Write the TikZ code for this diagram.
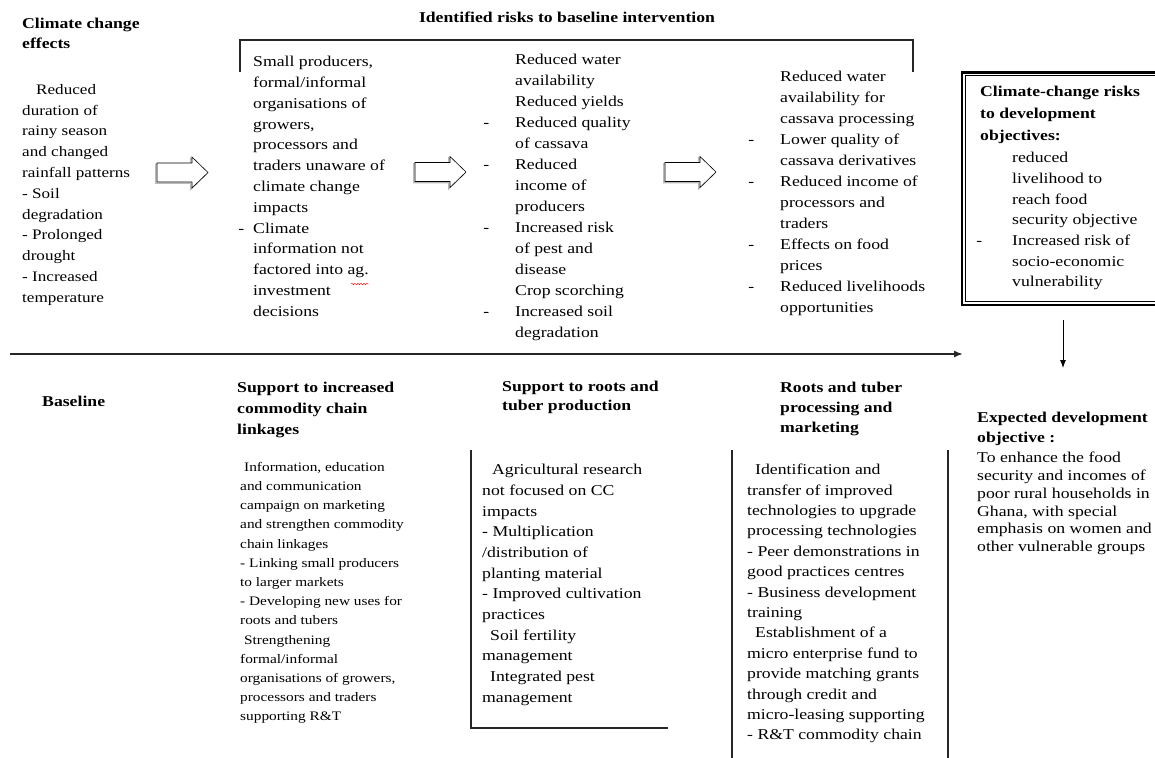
\documentclass[tikz,border=0pt]{standalone}
\usepackage{fontspec}
\setmainfont{Liberation Serif}[FakeStretch=1.18]
\usetikzlibrary{arrows.meta,decorations.pathmorphing}
\tikzset{
	txt/.style={anchor=north west, inner sep=0pt, align=left, font=\fontsize{15}{#1}\selectfont},
	txt/.default=20.8,
	hd/.style={anchor=north west, inner sep=0pt, align=left, font=\fontsize{15}{#1}\selectfont\bfseries},
	hd/.default=20,
	rule/.style={line width=1.2pt, black!85}
}
\def\dash#1{\llap{-\hspace{#1pt}}}
\def\blockarrow(#1,#2){%
	\draw[gray!55, line width=1.2pt, shift={(#1-1.3,#2+1.3)}] (0,-9.5) -- (35,-9.5) -- (35,-15.5) -- (51,0) -- (35,15.5) -- (35,9.5) -- (0,9.5) -- cycle;
	\draw[fill=white, line width=0.6pt, shift={(#1,#2)}] (0,-9.5) -- (35,-9.5) -- (35,-15.5) -- (51,0) -- (35,15.5) -- (35,9.5) -- (0,9.5) -- cycle;}

\begin{document}
\begin{tikzpicture}[x=1pt,y=-1pt]
			%%%%% START %%%%%
			\useasboundingbox (0,0) rectangle (1155,757);
			\clip (0,0) rectangle (1155,757);
			
			% upper band: effects and risks
			\node[hd] (effhead) at (22,18) {Climate change\\effects};
			\node[txt, font=\fontsize{14.5}{20.8}\selectfont] (effects) at (22,84) {\hspace*{14pt}Reduced\\duration of\\rainy season\\and changed\\rainfall patterns\\- Soil\\degradation\\- Prolonged\\drought\\- Increased\\temperature};
			
			\node[hd, anchor=north] (riskhead) at (567,12) {Identified risks to baseline intervention};
			\draw[rule] (240,72) -- (240,40) -- (913,40) -- (913,72);
			
			\node[txt] (actors) at (253,56) {Small producers,\\formal/informal\\organisations of\\growers,\\processors and\\traders unaware of\\climate change\\impacts\\\dash{9}Climate\\information not\\factored into ag.\\investment\\decisions};
			\draw[red, decorate, decoration={snake, amplitude=0.8pt, segment length=3pt}] (351,284) -- (369,284);
			
			\node[txt=21] (farm) at (515,54) {Reduced water\\availability\\Reduced yields\\\dash{26}Reduced quality\\of cassava\\\dash{26}Reduced\\income of\\producers\\\dash{26}Increased risk\\of pest and\\disease\\Crop scorching\\\dash{26}Increased soil\\degradation};
			
			\node[txt=21] (proc) at (780,71) {Reduced water\\availability for\\cassava processing\\\dash{26}Lower quality of\\cassava derivatives\\\dash{26}Reduced income of\\processors and\\traders\\\dash{26}Effects on food\\prices\\\dash{26}Reduced livelihoods\\opportunities};
			
			\blockarrow(157,172.5);
			\blockarrow(415,172);
			\blockarrow(665,172);
			
			% risks to the objective
			\draw[line width=1.3pt] (962,72) rectangle (1180,305);
			\draw[line width=0.6pt] (965.5,75.5) rectangle (1176,301.5);
			\draw[line width=2.4pt] (962,72.5) -- (1180,72.5);
			\node[hd=22] (riskobj) at (980,86) {Climate-change risks\\to development\\objectives:};
			\node[txt=20.7] (riskitems) at (1012,152) {reduced\\livelihood to\\reach food\\security objective\\\dash{30}Increased risk of\\socio-economic\\vulnerability};
			
			\coordinate (timeL) at (10,354);
			\coordinate (timeR) at (963,354);
			\draw[line width=1.7pt, black!85, -{Latex[length=9pt,width=7pt]}] (timeL) -- (timeR);
			\coordinate (objtop) at (1063,320);
			\coordinate (objbot) at (1063,368);
			\draw[line width=0.9pt, -{Latex[length=8pt,width=6pt]}] (objtop) -- (objbot);
			
			% lower band: baseline intervention
			\node[hd] (baseline) at (42,396) {Baseline};
			
			\node[hd=21] (linkhead) at (237,382) {Support to increased\\commodity chain\\linkages};
			\node[txt, font=\fontsize{13}{19.2}\selectfont] (link) at (240,462) {\hspace*{4pt}Information, education\\and communication\\campaign on marketing\\and strengthen commodity\\chain linkages\\- Linking small producers\\to larger markets\\- Developing new uses for\\roots and tubers\\\hspace*{4pt}Strengthening\\formal/informal\\organisations of growers,\\processors and traders\\supporting R\&T};
			
			\node[hd=19] (prodhead) at (502,381) {Support to roots and\\tuber production};
			\draw[rule] (471,450) -- (471,728) -- (668,728);
			\node[txt=20.7] (prod) at (482,464) {\hspace*{10pt}Agricultural research\\not focused on CC\\impacts\\- Multiplication\\/distribution of\\planting material\\- Improved cultivation\\practices\\\hspace*{8pt}Soil fertility\\management\\\hspace*{8pt}Integrated pest\\management};
			
			\node[hd] (markhead) at (780,382) {Roots and tuber\\processing and\\marketing};
			\draw[rule] (732,450) -- (732,760);
			\draw[rule] (948,450) -- (948,760);
			\node[txt=20.4] (mark) at (747,464) {\hspace*{8pt}Identification and\\transfer of improved\\technologies to upgrade\\processing technologies\\- Peer demonstrations in\\good practices centres\\- Business development\\training\\\hspace*{8pt}Establishment of a\\micro enterprise fund to\\provide matching grants\\through credit and\\micro-leasing supporting\\- R\&T commodity chain};
			
			\node[hd=19.5] (objhead) at (977,412) {Expected development\\objective :};
			\node[txt=17.8] (objective) at (977,452) {To enhance the food\\security and incomes of\\poor rural households in\\Ghana, with special\\emphasis on women and\\other vulnerable groups};
			
			%%%%% END %%%%%
\end{tikzpicture}
\end{document}
